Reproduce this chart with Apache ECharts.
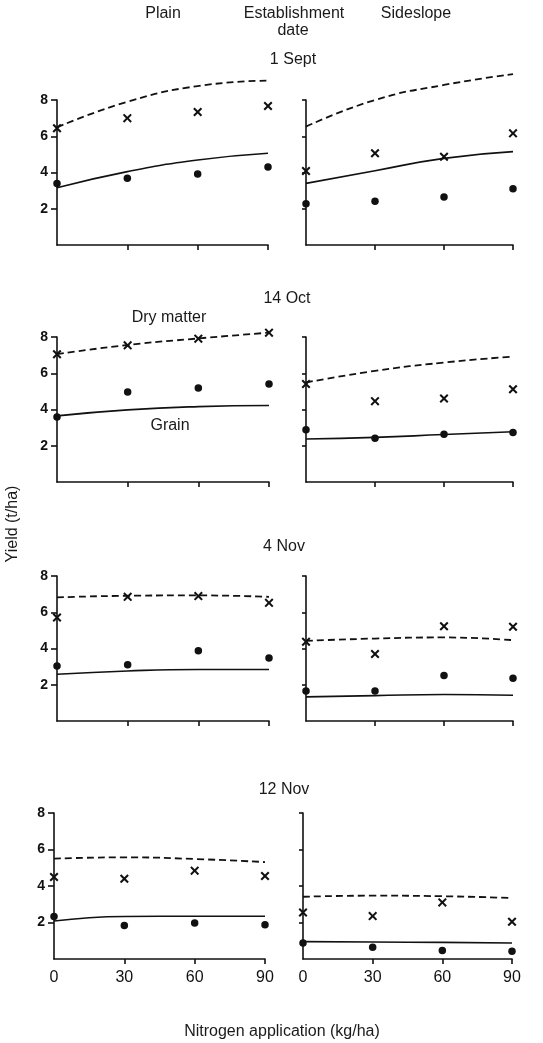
<!DOCTYPE html>
<html><head><meta charset="utf-8">
<script src="https://cdn.jsdelivr.net/npm/echarts@6/dist/echarts.min.js"></script>
<style>html,body{margin:0;padding:0;background:#fff}#c{width:543px;height:1043px}</style>
</head><body><div id="c"></div>
<script>
// ---- data ----
const nitrogen = [0, 30, 60, 90];
const dates = ['1 Sept', '14 Oct', '4 Nov', '12 Nov'];
const yTicks = [2, 4, 6, 8];
const xTicks = [30, 60, 90];
const xLabels = [0, 30, 60, 90];

// observed points (t/ha), one row per establishment date
const plainDryObs   = [[6.44, 7.00, 7.34, 7.67], [7.05, 7.54, 7.91, 8.24], [5.71, 6.85, 6.89, 6.52], [4.49, 4.40, 4.84, 4.55]];
const plainGrainObs = [[3.40, 3.68, 3.92, 4.30], [3.58, 4.96, 5.18, 5.41], [3.04, 3.10, 3.87, 3.47], [2.33, 1.84, 1.97, 1.88]];
const sideDryObs    = [[4.08, 5.06, 4.87, 6.16], [5.41, 4.46, 4.61, 5.12], [4.37, 3.70, 5.23, 5.20], [2.55, 2.35, 3.10, 2.04]];
const sideGrainObs  = [[2.28, 2.41, 2.65, 3.11], [2.88, 2.42, 2.64, 2.73], [1.66, 1.66, 2.51, 2.36], [0.88, 0.64, 0.47, 0.42]];

// fitted response curves (t/ha) read at 0, 30, 60, 90 kg/ha
const plainDryFit   = [[6.49, 7.90, 8.77, 9.07], [7.05, 7.56, 7.92, 8.24], [6.82, 6.91, 6.93, 6.85], [5.50, 5.57, 5.48, 5.31]];
const plainGrainFit = [[3.16, 4.05, 4.69, 5.06], [3.65, 3.98, 4.16, 4.22], [2.58, 2.76, 2.84, 2.84], [2.08, 2.33, 2.34, 2.34]];
const sideDryFit    = [[6.53, 8.00, 8.83, 9.43], [5.49, 6.13, 6.59, 6.92], [4.42, 4.55, 4.61, 4.46], [3.41, 3.47, 3.44, 3.34]];
const sideGrainFit  = [[3.40, 4.10, 4.78, 5.15], [2.37, 2.46, 2.62, 2.77], [1.33, 1.40, 1.46, 1.42], [0.95, 0.93, 0.91, 0.88]];

// ---- layout ----
const rowTops = [100, 337, 576, 813];
const rowH = [145, 145, 145, 146];
const leftX = [57, 57, 57, 54], leftW = [211, 212, 212, 211];
const rightX = [306, 306, 306, 303], rightW = [207, 207, 207, 209];

const INK = '#111';
const FONT = 'Liberation Sans, Arial, Helvetica, sans-serif';
const crossPath = 'path://M0,1.6L1.6,0L5,3.4L8.4,0L10,1.6L6.6,5L10,8.4L8.4,10L5,6.6L1.6,10L0,8.4L3.4,5Z';

const grids = [], xAxes = [], yAxes = [], series = [];
function pair(arr) { return nitrogen.map((n, i) => [n, arr[i]]); }

for (let r = 0; r < 4; r++) {
  for (let side = 0; side < 2; side++) {
    const idx = grids.length;
    const isLeft = side === 0;
    grids.push({
      left: isLeft ? leftX[r] : rightX[r],
      top: rowTops[r],
      width: isLeft ? leftW[r] : rightW[r],
      height: rowH[r],
      containLabel: false
    });
    xAxes.push({
      type: 'value', gridIndex: idx, min: 0, max: 90, interval: 30,
      splitLine: { show: false },
      axisLine: { show: true, onZero: false, lineStyle: { color: INK, width: 1.6 } },
      axisTick: { show: true, inside: false, length: 5, customValues: xTicks, lineStyle: { color: INK, width: 1.6 } },
      axisLabel: { show: r === 3, customValues: xLabels, color: INK, fontSize: 16, fontFamily: FONT, margin: 11 }
    });
    yAxes.push({
      type: 'value', gridIndex: idx, min: 0, max: 8, interval: 2,
      splitLine: { show: false },
      axisLine: { show: true, onZero: false, lineStyle: { color: INK, width: 1.6 } },
      axisTick: { show: true, inside: false, length: isLeft ? 6 : 4, customValues: yTicks, lineStyle: { color: INK, width: 1.6 } },
      axisLabel: { show: isLeft, customValues: yTicks, color: INK, fontSize: 14, fontWeight: 'bold', fontFamily: FONT, margin: 9 }
    });
    const dryFit = isLeft ? plainDryFit[r] : sideDryFit[r];
    const grainFit = isLeft ? plainGrainFit[r] : sideGrainFit[r];
    const dryObs = isLeft ? plainDryObs[r] : sideDryObs[r];
    const grainObs = isLeft ? plainGrainObs[r] : sideGrainObs[r];
    series.push({
      type: 'line', xAxisIndex: idx, yAxisIndex: idx, data: pair(dryFit), smooth: true,
      showSymbol: false, clip: false, silent: true,
      lineStyle: { color: INK, width: 1.8, type: [7, 4] }
    });
    series.push({
      type: 'line', xAxisIndex: idx, yAxisIndex: idx, data: pair(grainFit), smooth: true,
      showSymbol: false, clip: false, silent: true,
      lineStyle: { color: INK, width: 1.6 }
    });
    series.push({
      type: 'scatter', xAxisIndex: idx, yAxisIndex: idx, data: pair(dryObs), clip: false,
      symbol: crossPath, symbolSize: 9, itemStyle: { color: INK, opacity: 1 }, silent: true
    });
    series.push({
      type: 'scatter', xAxisIndex: idx, yAxisIndex: idx, data: pair(grainObs), clip: false,
      symbol: 'circle', symbolSize: 7.5, itemStyle: { color: INK, opacity: 1 }, silent: true
    });
  }
}

function txt(text, x, y, extra) {
  return Object.assign({
    type: 'text', x: x, y: y, silent: true,
    style: { text: text, align: 'center', verticalAlign: 'middle', fontSize: 16, fontFamily: FONT, fill: '#1a1a1a' }
  }, extra || {});
}
const dateLabelPos = [[293, 60], [287, 299], [284, 547], [284, 790]];
const graphics = [
  txt('Plain', 163, 14),
  txt('Establishment', 294, 14),
  txt('date', 293, 31),
  txt('Sideslope', 416, 14),
  txt('Dry matter', 169, 318),
  txt('Grain', 170, 426),
  txt('Nitrogen application (kg/ha)', 282, 1032),
  txt('Yield (t/ha)', 13, 524, { rotation: Math.PI / 2 })
];
dates.forEach((d, i) => graphics.push(txt(d, dateLabelPos[i][0], dateLabelPos[i][1])));

const chart = echarts.init(document.getElementById('c'), null, { renderer: 'canvas' });
chart.setOption({
  animation: false,
  backgroundColor: '#fff',
  grid: grids, xAxis: xAxes, yAxis: yAxes, series: series,
  graphic: graphics
});
</script></body></html>
